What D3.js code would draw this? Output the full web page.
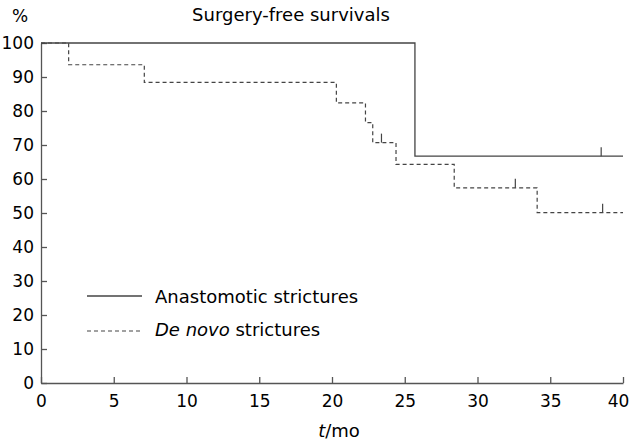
<!DOCTYPE html>
<html><head><meta charset="utf-8">
<script src="https://cdn.jsdelivr.net/npm/d3@7"></script>
<style>body{margin:0;background:#fff}svg{display:block}text{font-family:"DejaVu Sans",Verdana,sans-serif;fill:#000}</style>
</head><body><svg id="c" width="630" height="445"></svg>
<script>
const xTicks = [0,5,10,15,20,25,30,35,40];
const yTicks = [0,10,20,30,40,50,60,70,80,90,100];
const anaTimes = [0, 25.7, 40];
const anaSurv  = [100, 66.7, 66.7];
const anaCensor = [38.5];
const dnTimes = [0, 1.9, 7.1, 20.3, 22.3, 22.8, 24.4, 28.4, 34.1, 40];
const dnSurv  = [100, 93.6, 88.4, 82.4, 76.6, 70.7, 64.3, 57.4, 50.1, 50.1];
const dnCensor = [23.4, 32.6, 38.6];

const svg = d3.select("#c");
const x = d3.scaleLinear().domain([0,40]).range([41,623]);
const y = d3.scaleLinear().domain([0,100]).range([383,43]);
const axisCol = "#555", lineCol = "#444";

const xa = svg.append("g").attr("transform","translate(0,383)")
  .call(d3.axisBottom(x).tickValues(xTicks).tickSizeInner(-6).tickSizeOuter(0).tickPadding(12));
const ya = svg.append("g").attr("transform","translate(41,0)")
  .call(d3.axisLeft(y).tickValues(yTicks).tickSizeInner(-6).tickSizeOuter(0).tickPadding(7));
[xa,ya].forEach(a=>{
  a.selectAll("path,line").attr("stroke",axisCol).attr("stroke-width",1.3);
  a.selectAll("text").attr("font-size",17).attr("font-family","DejaVu Sans, Verdana, sans-serif").attr("fill","#000");
});
xa.selectAll(".tick").filter(d=>d===40).select("text").attr("dx",-5);

const line = d3.line().x(d=>x(d[0])).y(d=>y(d[1])).curve(d3.curveStepAfter);
const ana = anaTimes.map((t,i)=>[t,anaSurv[i]]);
const dn = dnTimes.map((t,i)=>[t,dnSurv[i]]);
svg.append("path").attr("d",line(ana)).attr("fill","none").attr("stroke",lineCol).attr("stroke-width",1.3);
svg.append("path").attr("d",line(dn)).attr("fill","none").attr("stroke",lineCol).attr("stroke-width",1.2).attr("stroke-dasharray","4,3");

function survAt(times,surv,t){let v=surv[0];times.forEach((tt,i)=>{if(tt<=t)v=surv[i];});return v;}
anaCensor.forEach(t=>{const v=survAt(anaTimes,anaSurv,t);
  svg.append("line").attr("x1",x(t)).attr("x2",x(t)).attr("y1",y(v)).attr("y2",y(v)-9).attr("stroke",lineCol).attr("stroke-width",1.2);});
dnCensor.forEach(t=>{const v=survAt(dnTimes,dnSurv,t);
  svg.append("line").attr("x1",x(t)).attr("x2",x(t)).attr("y1",y(v)).attr("y2",y(v)-9).attr("stroke",lineCol).attr("stroke-width",1.2);});

svg.append("text").attr("x",20).attr("y",22).attr("font-size",17).attr("text-anchor","middle").text("%");
svg.append("text").attr("x",291).attr("y",21).attr("font-size",18).attr("text-anchor","middle").text("Surgery-free survivals");
const xl = svg.append("text").attr("x",339).attr("y",437).attr("font-size",18).attr("text-anchor","middle");
xl.append("tspan").attr("font-style","italic").text("t");
xl.append("tspan").text("/mo");

// legend
svg.append("line").attr("x1",87).attr("x2",142).attr("y1",296).attr("y2",296).attr("stroke",lineCol).attr("stroke-width",1.3);
svg.append("text").attr("x",155).attr("y",303).attr("font-size",18).text("Anastomotic strictures");
svg.append("line").attr("x1",87).attr("x2",142).attr("y1",331).attr("y2",331).attr("stroke",lineCol).attr("stroke-width",1.2).attr("stroke-dasharray","4,3");
const l2 = svg.append("text").attr("x",155).attr("y",336).attr("font-size",18);
l2.append("tspan").attr("font-style","italic").text("De novo");
l2.append("tspan").text(" strictures");
</script></body></html>
